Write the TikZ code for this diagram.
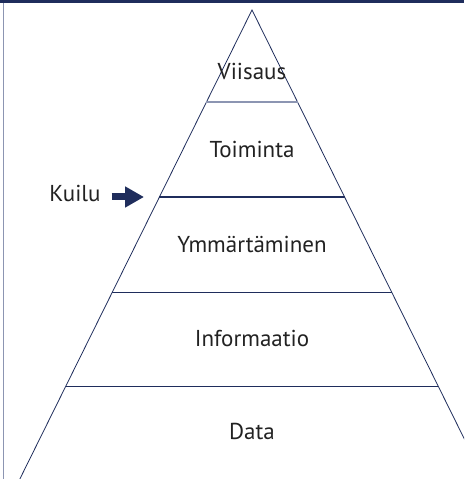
\documentclass[tikz,border=0pt]{standalone}
\usepackage{fontspec}
\setmainfont{PT Sans}
\usetikzlibrary{calc}
\usetikzlibrary{arrows.meta}
\definecolor{navy}{HTML}{1F2D5C}
\definecolor{greyblue}{HTML}{8C95B2}
\definecolor{txt}{HTML}{222222}
\tikzstyle{level}=[text=txt, font=\fontsize{23}{28}\selectfont, anchor=base, inner sep=0pt]
\tikzstyle{divider}=[navy, line width=0.8pt]
\tikzstyle{gap}=[navy, line width=2pt]

\begin{document}
\begin{tikzpicture}[x=1pt, y=1pt]
    \useasboundingbox (0,0) rectangle (464,479);
    \clip (0,0) rectangle (464,479);
    \fill[navy] (0,476) rectangle (464,479);
    \draw[greyblue, line width=1.5pt] (3.5,0) -- (3.5,476);
    \coordinate (apex) at (252,469);
    \coordinate (bl) at (4.5,-31);
    \coordinate (br) at (499.5,-31);
    \draw[divider] (bl) -- (apex) -- (br);
    \draw[greyblue, line width=1.5pt] ($(apex)!0.184!(bl)$) -- ($(apex)!0.184!(br)$);
    \draw[gap] ($(apex)!0.374!(bl)$) -- ($(apex)!0.374!(br)$);
    \draw[divider] ($(apex)!0.564!(bl)$) -- ($(apex)!0.564!(br)$);
    \draw[divider] ($(apex)!0.752!(bl)$) -- ($(apex)!0.752!(br)$);
    \node[level] (viisaus) at (252,399) {Viisaus};
    \node[level] (toiminta) at (252,321) {Toiminta};
    \node[level] (ymmartaminen) at (252,226) {Ymmärtäminen};
    \node[level] (informaatio) at (252,132) {Informaatio};
    \node[level] (data) at (252,39) {Data};
    \node[level] (kuilu) at (75,277) {Kuilu};
    \coordinate (kuilutip) at (144,282);
    \draw[navy, line width=7pt, -{Triangle[length=19pt,width=20pt]}] ([xshift=11pt]kuilu.east |- kuilutip) -- (kuilutip);
\end{tikzpicture}
\end{document}
